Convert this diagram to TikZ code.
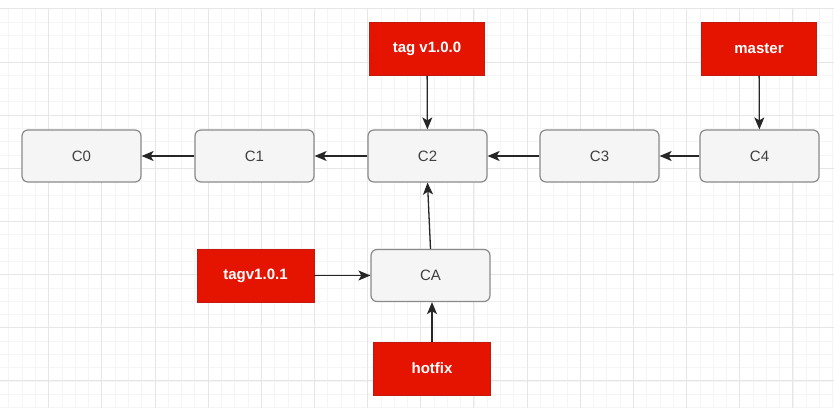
\documentclass[tikz,border=0pt]{standalone}
\usepackage{fontspec}
\setmainfont{Liberation Sans}
\usetikzlibrary{arrows.meta}
\definecolor{gridminor}{HTML}{F5F5F5}
\definecolor{gridmajor}{HTML}{E6E6E6}
\definecolor{commitfill}{HTML}{F5F5F5}
\definecolor{commitdraw}{HTML}{8A8A8A}
\definecolor{committext}{HTML}{404040}
\definecolor{tagfill}{HTML}{E51400}
\definecolor{tagdraw}{HTML}{C21A0E}
\tikzset{
  commit/.style={draw=commitdraw, fill=commitfill, line width=1.2pt, rounded corners=6pt,
    minimum width=119pt, minimum height=52pt, inner sep=0pt, text=committext, font=\fontsize{15}{18}\selectfont},
  tagbox/.style={draw=tagdraw, fill=tagfill, line width=0.8pt,
    minimum width=115pt, minimum height=53pt, inner sep=0pt, text=white, font=\bfseries\fontsize{15}{18}\selectfont},
  link/.style={draw=black!85, line width=1.3pt, -{Stealth[length=12pt,width=10pt,inset=3pt]}}
}
\begin{document}
\begin{tikzpicture}[x=1pt,y=-1pt]
\useasboundingbox (0,0) rectangle (834,414);
\fill[white] (0,0) rectangle (834,414);
% grid
\begin{scope}
\clip (0,8.8) rectangle (834,407);
\foreach \i in {-4,...,59} {
  \draw[gridminor, line width=0.8pt] ({48.7+13.29*\i},0) -- ({48.7+13.29*\i},414);
}
\foreach \j in {-4,...,30} {
  \draw[gridminor, line width=0.8pt] (0,{62+13.29*\j}) -- (834,{62+13.29*\j});
}
\foreach \i in {-1,...,15} {
  \draw[gridmajor, line width=0.9pt] ({48.7+53.15*\i},0) -- ({48.7+53.15*\i},414);
}
\foreach \j in {-1,...,7} {
  \draw[gridmajor, line width=0.9pt] (0,{62+53.15*\j}) -- (834,{62+53.15*\j});
}
\end{scope}
% commits
\node[commit] (c0) at (81.5,156) {C0};
\node[commit] (c1) at (254.5,156) {C1};
\node[commit] (c2) at (427.5,156) {C2};
\node[commit] (c3) at (599.5,156) {C3};
\node[commit] (c4) at (759.5,156) {C4};
\node[commit] (ca) at (430.5,275.5) {CA};
% tags
\node[tagbox] (t100) at (427,49) {tag v1.0.0};
\node[tagbox] (master) at (759,49) {master};
\node[tagbox, minimum width=117pt] (t101) at (255.5,275.5) {tagv1.0.1};
\node[tagbox, minimum width=117pt] (hotfix) at (432,368.5) {hotfix};
% connectors
\draw[link] (c1) -- (c0);
\draw[link] (c2) -- (c1);
\draw[link] (c3) -- (c2);
\draw[link] (c4) -- (c3);
\draw[link] (t100) -- (c2);
\draw[link] (master) -- (c4);
\draw[link] (ca.north) -- (c2.south);
\draw[link] (t101) -- (ca);
\draw[link] (hotfix.north) -- (hotfix.north |- ca.south);
\end{tikzpicture}
\end{document}
